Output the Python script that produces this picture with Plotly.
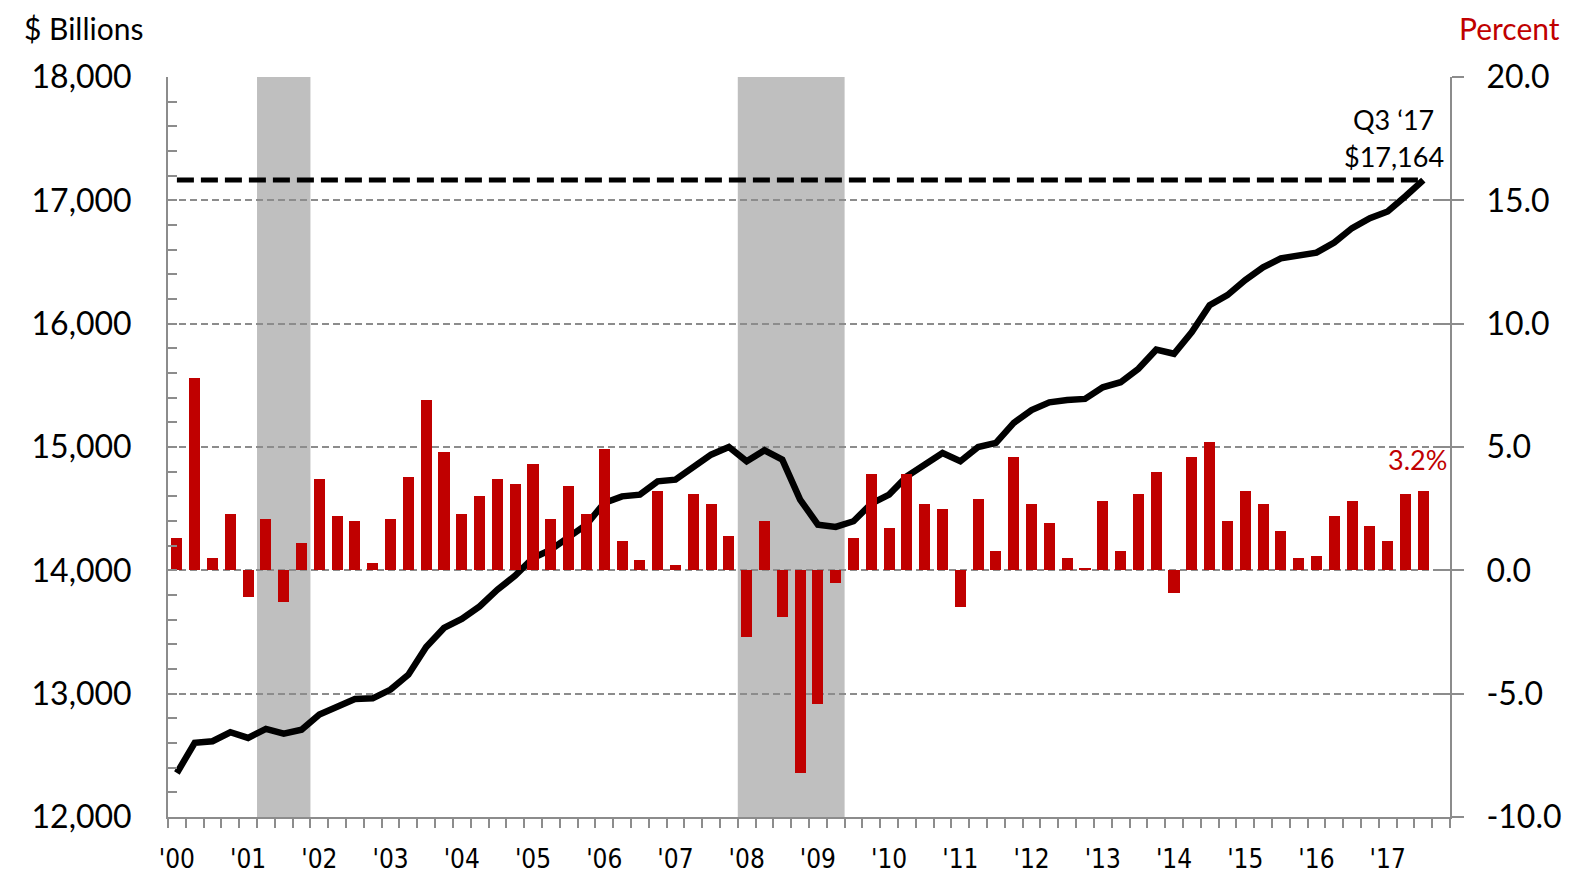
import plotly.graph_objects as go

# ---------------- data ----------------
years = list(range(2000, 2018))
quarters = [f"{y}Q{q}" for y in years for q in (1, 2, 3, 4)]  # 72 slots, 2000Q1..2017Q4
year_labels = ["'00", "'01", "'02", "'03", "'04", "'05", "'06", "'07", "'08",
               "'09", "'10", "'11", "'12", "'13", "'14", "'15", "'16", "'17"]

# Real GDP level, $ billions (2000Q1 .. 2017Q3)
gdp_level = [12357, 12601, 12614, 12687, 12641, 12714, 12676, 12708, 12830, 12898,
             12957, 12962, 13033, 13154, 13379, 13533, 13606, 13708, 13843, 13957,
             14100, 14168, 14276, 14370, 14547, 14600, 14614, 14722, 14735, 14830,
             14938, 15000, 14884, 14973, 14898, 14574, 14370, 14352, 14398, 14541,
             14614, 14762, 14857, 14951, 14884, 15000, 15033, 15195, 15300, 15362,
             15381, 15390, 15484, 15525, 15634, 15789, 15756, 15932, 16150, 16231,
             16354, 16457, 16530, 16549, 16576, 16658, 16775, 16856, 16910, 17033,
             17164]

# Quarterly growth, annualized percent
growth = [1.3, 7.8, 0.5, 2.3, -1.1, 2.1, -1.3, 1.1, 3.7, 2.2,
          2.0, 0.3, 2.1, 3.8, 6.9, 4.8, 2.3, 3.0, 3.7, 3.5,
          4.3, 2.1, 3.4, 2.3, 4.9, 1.2, 0.4, 3.2, 0.2, 3.1,
          2.7, 1.4, -2.7, 2.0, -1.9, -8.2, -5.4, -0.5, 1.3, 3.9,
          1.7, 3.9, 2.7, 2.5, -1.5, 2.9, 0.8, 4.6, 2.7, 1.9,
          0.5, 0.1, 2.8, 0.8, 3.1, 4.0, -0.9, 4.6, 5.2, 2.0,
          3.2, 2.7, 1.6, 0.5, 0.6, 2.2, 2.8, 1.8, 1.2, 3.1,
          3.2]

recessions = [("2001Q2", "2001Q4"), ("2008Q1", "2009Q2")]

left_ticks = [12000, 13000, 14000, 15000, 16000, 17000, 18000]
right_ticks = [-10, -5, 0, 5, 10, 15, 20]

latest_label = "Q3 \u201817"

# ---------------- styling ----------------
RED = "#C00000"
GRAY = "#8C8C8C"
SHADE = "#BFBFBF"
FONT = "Lato"

n = len(gdp_level)
xpos = list(range(n))
idx = {q: i for i, q in enumerate(quarters)}

fig = go.Figure()

fig.add_trace(go.Bar(
    x=xpos, y=growth, yaxis="y2", marker=dict(color=RED, line=dict(width=0)),
    width=0.62, hoverinfo="skip"))

fig.add_trace(go.Scatter(
    x=xpos, y=gdp_level, mode="lines", line=dict(color="black", width=6.5),
    hoverinfo="skip"))

fig.add_trace(go.Scatter(
    x=[xpos[0], xpos[-1]], y=[gdp_level[-1], gdp_level[-1]], mode="lines",
    line=dict(color="black", width=5, dash="17px,7px"), hoverinfo="skip"))

# recession shading
for a, b in recessions:
    fig.add_shape(type="rect", xref="x", yref="paper",
                  x0=idx[a] - 0.5, x1=idx[b] + 0.5, y0=0, y1=1,
                  fillcolor=SHADE, line=dict(width=0), layer="between")

tick_font = dict(family=FONT, size=32, color="black")

fig.update_layout(
    width=1568, height=865,
    margin=dict(l=160, r=126, t=69, b=56, autoexpand=False),
    paper_bgcolor="white", plot_bgcolor="white",
    showlegend=False, bargap=0,
    xaxis=dict(
        range=[-0.5, len(quarters) - 0.5], automargin=False,
        tickmode="array", tickvals=[idx[f"{y}Q1"] for y in years], ticktext=year_labels,
        ticks="", showgrid=False, zeroline=False,
        showline=True, linecolor=GRAY, linewidth=2,
        tickfont=dict(family="DejaVu Sans Condensed, " + FONT, size=26, color="black"),
        ticklabelstandoff=18,
        minor=dict(tickmode="linear", tick0=-0.5, dtick=1, ticks="outside",
                   ticklen=9, tickcolor=GRAY, tickwidth=1.5, showgrid=False),
    ),
    yaxis=dict(
        range=[12000, 18000], automargin=False,
        tickmode="array", tickvals=left_ticks, ticktext=[f"{v:,}" for v in left_ticks],
        showgrid=True, gridcolor=GRAY, gridwidth=1.5, griddash="7px,4px",
        zeroline=False, showline=True, linecolor=GRAY, linewidth=2,
        ticks="inside", ticklen=9, tickcolor=GRAY, tickwidth=1.5,
        minor=dict(tickmode="linear", tick0=12000, dtick=200, ticks="inside", ticklen=9,
                   tickcolor=GRAY, tickwidth=1.5, showgrid=False),
        tickfont=tick_font, ticklabelstandoff=28,
    ),
    yaxis2=dict(
        range=[-10, 20], automargin=False, overlaying="y", side="right",
        tickmode="array", tickvals=right_ticks, ticktext=[f"{v:.1f}" for v in right_ticks],
        showgrid=False, zeroline=False, showline=True, linecolor=GRAY, linewidth=2,
        ticks="outside", ticklen=12, tickcolor=GRAY, tickwidth=1.5,
        tickfont=tick_font, ticklabelstandoff=16,
    ),
    yaxis3=dict(
        range=[-10, 20], automargin=False, overlaying="y", side="right", anchor="x",
        tickmode="array", tickvals=right_ticks,
        showgrid=False, zeroline=False, showline=False, showticklabels=False,
        ticks="inside", ticklen=12, tickcolor=GRAY, tickwidth=1.5,
    ),
)

# invisible trace to activate yaxis3
fig.add_trace(go.Scatter(x=[xpos[0]], y=[0], yaxis="y3", mode="markers",
                         marker=dict(opacity=0), hoverinfo="skip"))

# axis titles
fig.add_annotation(text="$ Billions", xref="paper", yref="paper", x=-0.1135, y=1.066,
                   xanchor="left", yanchor="middle", showarrow=False,
                   font=dict(family=FONT, size=30, color="black"))
fig.add_annotation(text="Percent", xref="paper", yref="paper", x=1.0875, y=1.066,
                   xanchor="right", yanchor="middle", showarrow=False,
                   font=dict(family=FONT, size=30, color=RED))

# latest value labels
fig.add_annotation(text=latest_label, x=xpos[-1], y=gdp_level[-1], xref="x", yref="y",
                   xanchor="center", yanchor="middle", xshift=-30, yshift=61,
                   showarrow=False, font=dict(family=FONT, size=27, color="black"))
fig.add_annotation(text=f"${gdp_level[-1]:,}", x=xpos[-1], y=gdp_level[-1], xref="x", yref="y",
                   xanchor="center", yanchor="middle", xshift=-29, yshift=24,
                   showarrow=False, font=dict(family=FONT, size=27, color="black"))
fig.add_annotation(text=f"{growth[-1]:.1f}%", x=xpos[-1], y=growth[-1], xref="x", yref="y2",
                   xanchor="center", yanchor="middle", xshift=-6, yshift=32,
                   showarrow=False, font=dict(family=FONT, size=27, color=RED))

fig.write_html("out.html")
